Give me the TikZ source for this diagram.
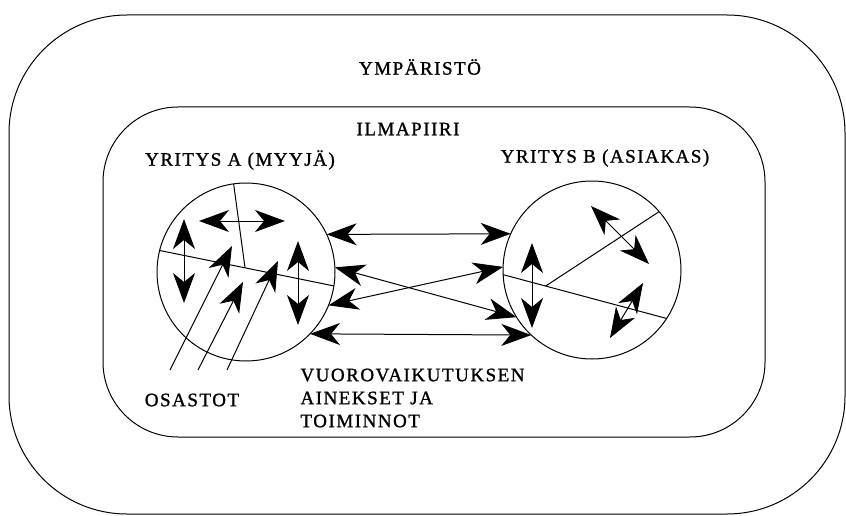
\documentclass[tikz,border=0pt]{standalone}
\usepackage{fontspec}
\setmainfont[LetterSpace=8,FakeBold=1.2]{Liberation Serif}
\usetikzlibrary{arrows.meta,calc}

\begin{document}
\begin{tikzpicture}
	[x=1pt,y=-1pt,line width=1pt,
	>={Stealth[length=30pt,width=22pt,inset=9pt]},
	every node/.style={font=\fontsize{19}{23}\selectfont,inner sep=0pt},
	firm/.style={shape=circle,draw,minimum size=178pt,outer sep=0pt}]
	\useasboundingbox (0,0) rectangle (846,516);
	
	% environment and climate
	\draw[rounded corners=118pt] (9,15) rectangle (845,514);
	\draw[rounded corners=75pt] (103,107) rectangle (765,437);
	
	\node (env) at (420,67) {YMPÄRISTÖ};
	\node (clim) at (408,129) {ILMAPIIRI};
	\node (la) at (240,160) {YRITYS A (MYYJÄ)};
	\node (lb) at (605,158) {YRITYS B (ASIAKAS)};
	\node (os) at (192,400) {OSASTOT};
	\node[anchor=west,align=left] (vv) at (300,398)
		{VUOROVAIKUTUKSEN\\AINEKSET JA\\TOIMINNOT};
	
	% the two firms
	\node[firm] (ya) at (246,272) {};
	\node[firm] (yb) at (592,270) {};
	
	% departments
	\draw (ya.166) -- (ya.-9);
	\draw (ya.98) -- ($(ya.166)!.49!(ya.-9)$);
	\draw (yb.183) -- (yb.-33);
	\draw (yb.41) -- ($(yb.183)!.26!(yb.-33)$);
	
	\draw[<->] (199,221) -- (285,221);
	\draw[<->] (184,219) -- (184,303);
	\draw[<->] (298,241) -- (298,325);
	\foreach \sx/\ex/\ey in {170/232/246,198/243/282,227/278/261}
	{
		\draw[->] (\sx,370) -- (\ex,\ey);
	}
	
	\draw[<->] (532,243) -- (532,328);
	\draw[<->] (591,206) -- (649,264);
	\draw[<->] (643,283) -- (610,338);
	
	% interaction between A and B
	\path
	\foreach \startAngle/\endAngle in {25/156,3/212,-22/178,-44/227}
	{
		(ya.\startAngle) edge[<->] (yb.\endAngle)
	};
\end{tikzpicture}
\end{document}
